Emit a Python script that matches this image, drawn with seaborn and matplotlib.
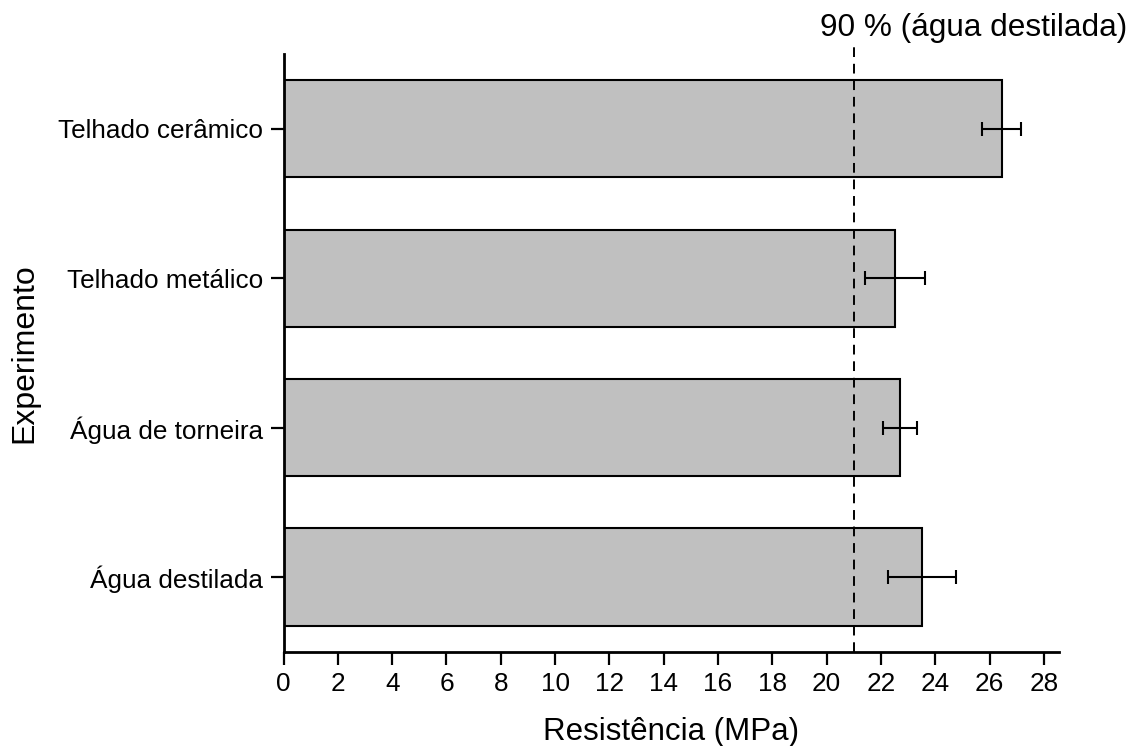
import matplotlib
matplotlib.use("Agg")
import matplotlib.pyplot as plt
import seaborn as sns

categories = ["Telhado cerâmico", "Telhado metálico", "Água de torneira", "Água destilada"]
resistencia = [26.44, 22.52, 22.71, 23.51]
desvio = [0.71, 1.11, 0.63, 1.25]
limite = 21.0  # 90 % da água destilada
x_ticks = list(range(0, 29, 2))


def main():
    sns.set_style("ticks")
    plt.rcParams["font.family"] = ["Liberation Sans", "DejaVu Sans"]
    plt.rcParams["text.color"] = "black"
    plt.rcParams["axes.labelcolor"] = "black"

    fig = plt.figure(figsize=(11.34, 7.46), dpi=100)
    ax = fig.add_axes([0.25, 0.1264, 0.684, 0.8012])

    sns.barplot(
        x=resistencia,
        y=categories,
        orient="h",
        color="#C0C0C0",
        saturation=1,
        width=0.65,
        edgecolor="black",
        linewidth=1.5,
        errorbar=None,
        ax=ax,
    )
    ax.errorbar(
        resistencia,
        range(len(categories)),
        xerr=desvio,
        fmt="none",
        ecolor="black",
        elinewidth=1.5,
        capsize=4.7,
        capthick=1.5,
    )

    ax.axvline(limite, ymin=0, ymax=1.018, color="black", linestyle=(0, (5, 3.5)),
               linewidth=1.4, clip_on=False, zorder=5)
    fig.text(0.994, 0.962, "90 % (água destilada)", ha="right", va="center",
             fontsize=22.7, color="black")

    ax.set_xlim(0, 28.56)
    ax.set_ylim(3.5, -0.5)
    ax.set_xticks(x_ticks)
    ax.set_xticklabels([str(t) for t in x_ticks])

    ax.set_xlabel("Resistência (MPa)", fontsize=22.5, labelpad=15)
    ax.set_ylabel("Experimento", fontsize=23, labelpad=14)

    sns.despine(ax=ax)
    for s in ["left", "bottom"]:
        ax.spines[s].set_linewidth(2.0)
        ax.spines[s].set_color("black")
    ax.tick_params(axis="both", length=9.5, width=1.6, labelsize=18.8,
                   color="black", labelcolor="black")
    ax.tick_params(axis="x", pad=5)
    ax.tick_params(axis="y", pad=5)

    fig.savefig("out.png", dpi=100)


if __name__ == "__main__":
    main()
